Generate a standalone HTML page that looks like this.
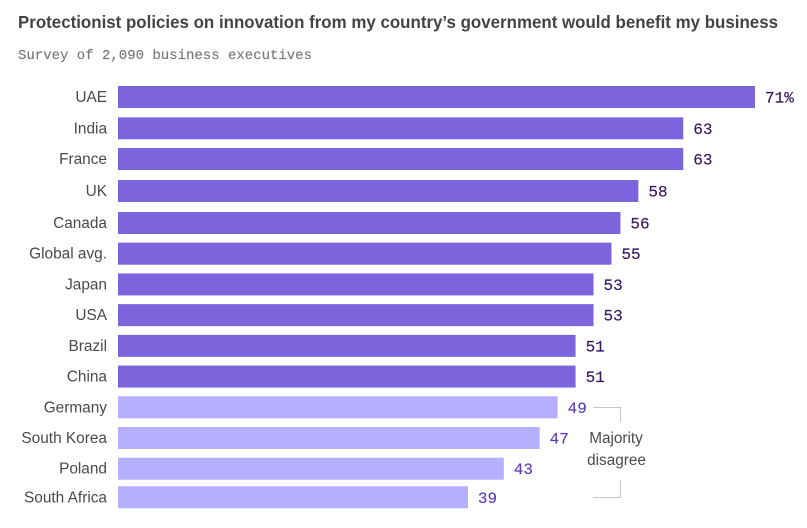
<!DOCTYPE html>
<html>
<head>
<meta charset="utf-8">
<style>
html,body{margin:0;padding:0;background:#fff;width:807px;height:528px;overflow:hidden}
svg{display:block}
.sans{font-family:"Liberation Sans",sans-serif}
.mono{font-family:"Liberation Mono",monospace}
</style>
</head>
<body>
<svg id="chart" width="807" height="528" viewBox="0 0 807 528" xmlns="http://www.w3.org/2000/svg">
<text class="sans" x="18" y="28" font-size="17.5" font-weight="bold" fill="#444444" textLength="760" lengthAdjust="spacingAndGlyphs">Protectionist policies on innovation from my country’s government would benefit my business</text>
<text class="mono" x="18" y="59" font-size="14" fill="#777777" stroke="#777777" stroke-width="0.15" textLength="294" lengthAdjust="spacingAndGlyphs">Survey of 2,090 business executives</text>
<g id="bars"></g>
<path d="M593 407.5H620.5V422" fill="none" stroke="#c4c4c4" stroke-width="1"/>
<path d="M620.5 480V497.5H593" fill="none" stroke="#c4c4c4" stroke-width="1"/>
<text class="sans" x="616" y="443" font-size="15.3" fill="#4a4a4a" text-anchor="middle">Majority</text>
<text class="sans" x="616.5" y="465" font-size="15.3" fill="#4a4a4a" text-anchor="middle">disagree</text>
</svg>
<script>
const categories = ["UAE","India","France","UK","Canada","Global avg.","Japan","USA","Brazil","China","Germany","South Korea","Poland","South Africa"];
const values = [71,63,63,58,56,55,53,53,51,51,49,47,43,39];
const majorityThreshold = 50;

const NS = "http://www.w3.org/2000/svg";
const svgGroup = document.getElementById("bars");
function xScale(v){ return v * 8.972; }
function yScale(i){
  let nudge = 3.1;
  if (i === 0) nudge = 0;
  else if (i < 3) nudge = 0.6;
  else if (i === 3) nudge = 1.8;
  else if (i === 13) nudge = 0.9;
  return 86 + i * 30.72 + nudge;
}
categories.forEach(function(cat, i){
  const v = values[i];
  const y = yScale(i);
  const agree = v > majorityThreshold;

  const label = document.createElementNS(NS, "text");
  
  
  label.setAttribute("class", "sans");
  label.setAttribute("x", 107);
  label.setAttribute("y", y + 16);
  label.setAttribute("font-size", "15.4");
  label.setAttribute("fill", "#4a4a4a");
  label.setAttribute("text-anchor", "end");
  label.textContent = cat;
  svgGroup.appendChild(label);

  const bar = document.createElementNS(NS, "rect");
  
  
  bar.setAttribute("x", 118);
  bar.setAttribute("y", y);
  bar.setAttribute("width", xScale(v));
  bar.setAttribute("height", 22);
  bar.setAttribute("fill", agree ? "#7b64dc" : "#b6aeff");
  svgGroup.appendChild(bar);

  const val = document.createElementNS(NS, "text");
  
  
  val.setAttribute("class", "mono");
  val.setAttribute("x", 118 + xScale(v) + 10);
  val.setAttribute("y", y + 16.5);
  val.setAttribute("font-size", "16");
  val.setAttribute("fill", agree ? "#33175f" : "#5a3fb5");
  val.setAttribute("stroke", agree ? "#33175f" : "#5a3fb5");
  val.setAttribute("stroke-width", "0.15");
  val.textContent = i === 0 ? v + "%" : String(v);
  svgGroup.appendChild(val);
});
</script>
</body>
</html>
